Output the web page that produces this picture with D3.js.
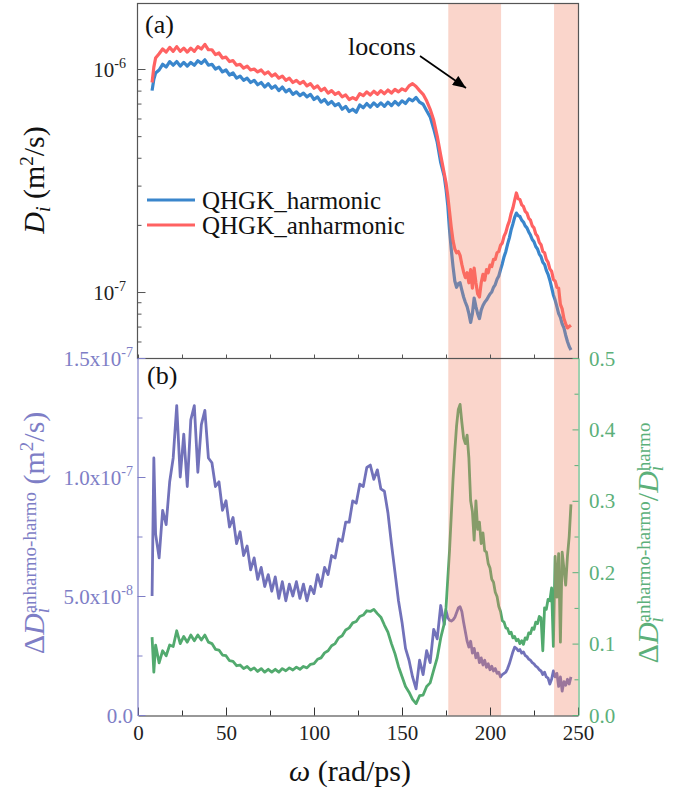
<!DOCTYPE html>
<html><head><meta charset="utf-8">
<script src="https://cdn.jsdelivr.net/npm/d3@7"></script>
<style>
body{margin:0;background:#fff}
svg{display:block}
text{font-family:"Liberation Serif","Times New Roman",Times,serif}
</style>
</head><body>
<svg id="chart" width="689" height="792" font-family="Liberation Serif, Times New Roman, serif"></svg>
<script>
// ω (rad/ps) sample points
const omega = [8,9,10,12,14,16,18,20,22,24,26,28,30,32,34,36,38,40,42,44,46,48,50,52,54,56,58,60,62,64,66,68,70,72,74,76,78,80,82,84,86,88,90,92,94,96,98,100,102,104,106,108,110,112,114,116,118,120,122,124,126,128,130,132,134,136,138,140,142,144,146,148,150,152,154,156,158,160,162,164,166,168,170,172,174,
175,176,177,178,179,180,181,182,183,184,185,186,187,188,189,190,191,192,193,194,195,196,197,198,199,200,201,202,203,204,205,206,207,208,209,210,211,212,213,214,215,216,217,218,219,220,221,222,223,224,225,226,227,228,229,230,231,232,233,234,235,236,237,238,239,240,241,242,243,244,245,246];

// D_i, QHGK harmonic (units of 1e-7 m^2/s)
const harmonic = [8.0,9.0,9.6,9.9,10.5,10.2,10.8,10.4,10.8,10.3,10.7,10.3,10.7,10.4,10.9,10.6,11.0,10.4,10.5,10.0,10.2,9.7,9.9,9.4,9.6,9.1,9.3,8.9,9.1,8.7,8.9,8.5,8.7,8.3,8.6,8.2,8.4,8.0,8.3,7.9,8.1,7.7,7.9,7.6,7.8,7.5,7.7,7.3,7.5,7.1,7.3,6.95,7.15,6.85,7.0,6.6,6.8,6.45,6.6,6.4,6.9,6.7,7.0,6.75,7.05,6.8,7.05,6.8,7.1,6.85,7.15,6.9,7.2,7.0,7.35,7.2,7.45,7.1,6.95,6.5,6.1,5.4,4.7,3.8,3.3,
2.9,2.45,1.9,1.55,1.3,1.12,1.05,1.09,1.1,1.02,0.95,0.9,0.86,0.8,0.73,0.8,0.94,0.86,0.8,0.76,0.83,0.87,0.9,0.92,0.95,0.98,1.0,1.05,1.08,1.14,1.18,1.26,1.34,1.44,1.52,1.64,1.75,1.9,2.02,2.16,2.26,2.2,2.18,2.1,2.06,1.98,1.94,1.86,1.8,1.72,1.68,1.6,1.56,1.48,1.44,1.36,1.33,1.25,1.2,1.13,1.05,0.97,0.92,0.86,0.8,0.77,0.72,0.69,0.64,0.6,0.57,0.55];

// D_i, QHGK anharmonic (units of 1e-7 m^2/s)
const anharmonic = [8.7,10.2,11.2,11.7,12.3,11.9,12.5,12.0,12.6,12.0,12.4,11.9,12.4,12.0,12.6,12.3,12.9,12.2,12.2,11.6,11.8,11.2,11.3,10.8,10.9,10.4,10.5,10.1,10.3,9.9,10.0,9.7,9.9,9.5,9.7,9.3,9.5,9.1,9.3,8.9,9.1,8.7,8.9,8.6,8.8,8.4,8.6,8.2,8.4,8.0,8.2,7.8,8.0,7.7,7.85,7.5,7.65,7.3,7.45,7.3,7.75,7.6,7.9,7.65,7.95,7.7,8.0,7.75,8.05,7.8,8.1,7.9,8.15,8.0,8.4,8.6,8.35,8.0,7.7,7.2,6.6,5.9,5.0,4.1,3.4,
3.1,2.7,2.3,1.95,1.7,1.56,1.5,1.52,1.46,1.33,1.23,1.16,1.22,1.1,1.26,1.04,1.28,1.1,0.98,0.95,1.1,1.2,1.13,1.26,1.22,1.32,1.3,1.4,1.4,1.5,1.52,1.62,1.66,1.78,1.85,1.98,2.08,2.25,2.38,2.58,2.78,2.62,2.6,2.46,2.42,2.3,2.26,2.14,2.1,1.98,1.94,1.82,1.78,1.67,1.63,1.52,1.5,1.4,1.36,1.27,1.24,1.14,1.12,1.05,1.04,0.88,0.84,0.76,0.72,0.69,0.7,0.71];

// ΔD_i anharmo-harmo (units of 1e-8 m^2/s)
const deltaD = [5.0,10.8,7.6,6.6,8.6,8.0,9.8,10.8,13.0,10.0,11.8,9.6,12.4,13.0,10.2,12.2,12.8,10.8,10.6,9.6,9.8,8.6,9.0,7.9,8.3,7.2,7.7,6.7,7.1,6.1,6.6,5.7,6.2,5.4,5.9,5.2,5.8,4.9,5.6,4.8,5.5,5.0,5.6,4.9,5.5,4.8,5.4,5.1,5.9,5.4,6.2,5.9,6.7,6.6,7.4,7.3,8.1,8.1,9.0,8.9,9.7,9.6,10.4,10.5,9.9,10.3,9.5,9.4,8.5,7.2,6.0,4.8,3.9,2.8,2.3,1.6,1.1,2.3,1.7,2.7,2.2,3.6,3.2,4.6,3.8,
4.4,4.1,3.98,3.95,4.0,4.1,4.3,4.5,4.55,4.35,3.9,3.5,3.1,2.85,3.1,2.6,2.8,2.4,2.6,2.2,2.4,2.1,2.3,2.0,2.15,1.9,2.05,1.85,1.95,1.75,1.8,1.6,1.7,1.75,1.8,1.95,2.15,2.4,2.65,2.85,2.8,2.7,2.75,2.6,2.65,2.5,2.45,2.35,2.3,2.2,2.15,2.05,2.0,1.9,1.85,1.7,1.8,1.6,1.55,1.3,1.5,1.85,1.6,1.75,1.2,1.6,1.0,1.4,1.25,1.5,1.3,1.6];

// ΔD_i anharmo-harmo / D_i harmo (dimensionless)
const ratio = [0.109,0.06,0.098,0.073,0.09,0.083,0.098,0.096,0.118,0.1,0.11,0.102,0.112,0.104,0.112,0.105,0.112,0.102,0.1,0.092,0.091,0.084,0.083,0.076,0.075,0.069,0.07,0.065,0.068,0.063,0.066,0.061,0.065,0.06,0.064,0.06,0.064,0.06,0.065,0.062,0.066,0.063,0.067,0.064,0.068,0.066,0.071,0.072,0.078,0.08,0.087,0.09,0.097,0.1,0.108,0.111,0.119,0.122,0.129,0.131,0.138,0.14,0.146,0.145,0.148,0.142,0.137,0.126,0.116,0.1,0.086,0.068,0.054,0.04,0.032,0.022,0.016,0.027,0.028,0.04,0.045,0.063,0.08,0.108,0.128,
0.15,0.19,0.23,0.28,0.33,0.37,0.405,0.428,0.435,0.41,0.388,0.38,0.392,0.36,0.3,0.285,0.245,0.3,0.26,0.27,0.24,0.255,0.23,0.228,0.212,0.206,0.19,0.186,0.172,0.166,0.152,0.145,0.132,0.13,0.122,0.121,0.114,0.116,0.108,0.11,0.104,0.106,0.1,0.104,0.099,0.108,0.106,0.115,0.114,0.122,0.12,0.13,0.128,0.138,0.136,0.09,0.15,0.148,0.162,0.16,0.178,0.096,0.222,0.165,0.226,0.102,0.228,0.205,0.182,0.222,0.25,0.295];

const seriesNames = ["QHGK_harmonic","QHGK_anharmonic"];
const xMajorTicks = [0,50,100,150,200,250];
const xMinorTicks = [25,75,125,175,225];
const topMajorTicks = [1,10];            // 1e-7, 1e-6 in units of 1e-7
const topTickExp = ["-7","-6"];
const topMinorTicks = [0.6,0.7,0.8,0.9,2,3,4,5,6,7,8,9];
const leftMajorTicks = [0,5,10,15];      // units of 1e-8
const leftTickMant = ["0.0","5.0x10","1.0x10","1.5x10"];
const leftTickExp = ["","-8","-7","-7"];
const leftMinorTicks = [2.5,7.5,12.5];
const rightMajorTicks = [0,0.1,0.2,0.3,0.4,0.5];
const rightTickLabels = ["0.0","0.1","0.2","0.3","0.4","0.5"];
const rightMinorTicks = [0.05,0.15,0.25,0.35,0.45];
const locBands = [[176.3,206.3],[236.4,250]];

const C = {blue:"#3a86cc", red:"#ff6262", purple:"#7272ba", green:"#52aa6e",
           lav:"#7e7ec6", grn:"#5cb07a", axis:"#555", band:"#f08060"};
const FONT = "Liberation Serif, Times New Roman, serif";
const L=137.5, R=578.5, T=3.5, M=358.5, B=715.5;

const svg = d3.select("#chart");
const x = d3.scaleLinear().domain([0,250]).range([138,578]);
const yTop = d3.scaleLog().domain([0.506,19.77]).range([358,3]);
const yL = d3.scaleLinear().domain([0,15]).range([715,358]);
const yR = d3.scaleLinear().domain([0,0.5]).range([715,358]);

const defs = svg.append("defs");
defs.append("clipPath").attr("id","clipTop").append("rect").attr("x",L).attr("y",T).attr("width",R-L).attr("height",M-T);
defs.append("clipPath").attr("id","clipBot").append("rect").attr("x",L).attr("y",M).attr("width",R-L).attr("height",B-M);
defs.append("marker").attr("id","arr").attr("viewBox","0 0 12 10").attr("refX",12).attr("refY",5)
  .attr("markerWidth",14).attr("markerHeight",11).attr("markerUnits","userSpaceOnUse").attr("orient","auto")
  .append("path").attr("d","M0,0 L12,5 L0,10 Z").attr("fill","#000");

function rich(sel, parts){
  let cur=0;
  parts.forEach(p=>{
    const off=p.off||0;
    const ts=sel.append("tspan").text(p.t).attr("dy",off-cur);
    cur=off;
    if(p.size) ts.attr("font-size",p.size);
    if(p.it) ts.attr("font-style","italic");
    if(p.dx) ts.attr("dx",p.dx);
  });
  return sel;
}

// curves
const gTop = svg.append("g").attr("clip-path","url(#clipTop)");
const lineTop = arr => d3.line().x((d,i)=>x(omega[i])).y(d=>yTop(d))(arr);
gTop.append("path").attr("d",lineTop(harmonic)).attr("fill","none").attr("stroke",C.blue).attr("stroke-width",3.2).attr("stroke-linejoin","round");
gTop.append("path").attr("d",lineTop(anharmonic)).attr("fill","none").attr("stroke",C.red).attr("stroke-width",3.2).attr("stroke-linejoin","round");

const gBot = svg.append("g").attr("clip-path","url(#clipBot)");
gBot.append("path").attr("d",d3.line().x((d,i)=>x(omega[i])).y(d=>yL(d))(deltaD)).attr("fill","none").attr("stroke",C.purple).attr("stroke-width",2.8).attr("stroke-linejoin","round");
gBot.append("path").attr("d",d3.line().x((d,i)=>x(omega[i])).y(d=>yR(d))(ratio)).attr("fill","none").attr("stroke",C.green).attr("stroke-width",2.8).attr("stroke-linejoin","round");

// locon bands
svg.append("g").selectAll("rect").data(locBands).join("rect")
  .attr("x",d=>x(d[0])).attr("width",d=>Math.min(x(d[1]),R)-x(d[0]))
  .attr("y",T).attr("height",B-T).attr("fill",C.band).attr("fill-opacity",0.33);

// top panel frame & ticks
svg.append("rect").attr("x",L).attr("y",T).attr("width",R-L).attr("height",M-T).attr("fill","none").attr("stroke",C.axis).attr("stroke-width",1.2);
const gA = svg.append("g").attr("transform",`translate(${L},0)`);
gA.call(d3.axisLeft(yTop).tickValues(topMajorTicks).tickSizeInner(-8).tickSizeOuter(0).tickFormat(""));
gA.call(g=>g.select(".domain").remove());
const gA2 = svg.append("g").attr("transform",`translate(${L},0)`);
gA2.call(d3.axisLeft(yTop).tickValues(topMinorTicks).tickSizeInner(-4).tickSizeOuter(0).tickFormat(""));
gA2.call(g=>g.select(".domain").remove());
[gA,gA2].forEach(g=>g.selectAll("line").attr("stroke",C.axis));
const gXt = svg.append("g").attr("transform",`translate(0,${M})`);
gXt.call(d3.axisBottom(x).tickValues(xMajorTicks.concat(xMinorTicks)).tickSizeInner(-4).tickSizeOuter(0).tickFormat(""));
gXt.call(g=>g.select(".domain").remove());
gXt.selectAll("line").attr("stroke",C.axis);

svg.append("g").selectAll("text").data(topMajorTicks).join("text")
  .attr("x",126).attr("y",d=>yTop(d)+8).attr("text-anchor","end").attr("font-size",21).attr("fill","#222").attr("font-family",FONT)
  .each(function(d,i){ rich(d3.select(this),[{t:"10"},{t:topTickExp[i],size:14,off:-9}]); });

// bottom panel axes
const gXb = svg.append("g").attr("transform",`translate(0,${B})`);
gXb.call(d3.axisBottom(x).tickValues(xMajorTicks).tickSizeInner(-8).tickSizeOuter(0).tickPadding(10));
gXb.attr("font-family",FONT);
gXb.select(".domain").attr("stroke","#333").attr("stroke-width",1.2);
gXb.selectAll("line").attr("stroke","#333");
gXb.selectAll("text").attr("font-size",21).attr("fill","#222").attr("font-family",FONT);
const gXb2 = svg.append("g").attr("transform",`translate(0,${B})`);
gXb2.call(d3.axisBottom(x).tickValues(xMinorTicks).tickSizeInner(-5).tickSizeOuter(0).tickFormat(""));
gXb2.call(g=>g.select(".domain").remove());
gXb2.selectAll("line").attr("stroke","#333");

const gYl = svg.append("g").attr("transform",`translate(${L},0)`);
gYl.call(d3.axisLeft(yL).tickValues(leftMajorTicks).tickSizeInner(-8).tickSizeOuter(0).tickFormat(""));
gYl.select(".domain").attr("stroke",C.lav).attr("stroke-width",1.2);
gYl.selectAll("line").attr("stroke",C.lav);
const gYl2 = svg.append("g").attr("transform",`translate(${L},0)`);
gYl2.call(d3.axisLeft(yL).tickValues(leftMinorTicks).tickSizeInner(-5).tickSizeOuter(0).tickFormat(""));
gYl2.call(g=>g.select(".domain").remove());
gYl2.selectAll("line").attr("stroke",C.lav);
svg.append("g").selectAll("text").data(leftMajorTicks).join("text")
  .attr("x",133).attr("y",d=>yL(d)+8).attr("text-anchor","end").attr("font-size",21).attr("fill",C.lav).attr("font-family",FONT)
  .each(function(d,i){ const p=[{t:leftTickMant[i]}]; if(leftTickExp[i]) p.push({t:leftTickExp[i],size:14,off:-9}); rich(d3.select(this),p); });

const gYr = svg.append("g").attr("transform",`translate(${R},0)`);
gYr.call(d3.axisRight(yR).tickValues(rightMajorTicks).tickSizeInner(-6).tickSizeOuter(0).tickFormat(""));
gYr.select(".domain").attr("stroke",C.grn).attr("stroke-width",1.2);
gYr.selectAll("line").attr("stroke",C.grn);
const gYr2 = svg.append("g").attr("transform",`translate(${R},0)`);
gYr2.call(d3.axisRight(yR).tickValues(rightMinorTicks).tickSizeInner(-4).tickSizeOuter(0).tickFormat(""));
gYr2.call(g=>g.select(".domain").remove());
gYr2.selectAll("line").attr("stroke",C.grn);
svg.append("g").selectAll("text").data(rightMajorTicks).join("text")
  .attr("x",589).attr("y",d=>yR(d)+7.5).attr("font-size",21).attr("fill",C.grn).attr("font-family",FONT)
  .text((d,i)=>rightTickLabels[i]);

// panel labels
svg.append("text").attr("x",145).attr("y",33).attr("font-size",26).attr("fill","#111").attr("font-family",FONT).text("(a)");
svg.append("text").attr("x",147).attr("y",384).attr("font-size",26).attr("fill","#111").attr("font-family",FONT).text("(b)");

// locons annotation
svg.append("text").attr("x",348).attr("y",55).attr("font-size",26).attr("fill","#111").attr("font-family",FONT).text("locons");
svg.append("line").attr("x1",420).attr("y1",56).attr("x2",466).attr("y2",88).attr("stroke","#000").attr("stroke-width",1.6).attr("marker-end","url(#arr)");

// legend
const leg = svg.append("g");
[[C.blue,200],[C.red,225]].forEach((c,i)=>{
  leg.append("line").attr("x1",147).attr("x2",195).attr("y1",c[1]).attr("y2",c[1]).attr("stroke",c[0]).attr("stroke-width",2.8);
  leg.append("text").attr("x",202).attr("y",c[1]+9).attr("font-size",25).attr("fill","#111").attr("font-family",FONT).text(seriesNames[i]);
});

// axis titles
svg.append("text").attr("x",350).attr("y",781).attr("text-anchor","middle").attr("font-size",30).attr("fill","#111").attr("font-family",FONT)
  .call(s=>rich(s,[{t:"ω",it:true},{t:" (rad/ps)"}]));

svg.append("text").attr("transform","translate(44,180) rotate(-90)").attr("text-anchor","middle").attr("font-size",30).attr("fill","#111").attr("font-family",FONT)
  .call(s=>rich(s,[{t:"D",it:true},{t:"i",it:true,size:20,off:6},{t:" (m",off:0},{t:"2",size:19,off:-11},{t:"/s)",off:0}]));

svg.append("text").attr("transform","translate(44,533) rotate(-90)").attr("text-anchor","middle").attr("font-size",30).attr("fill",C.lav).attr("font-family",FONT)
  .call(s=>rich(s,[{t:"Δ"},{t:"D",it:true},{t:"i",it:true,size:20,off:5},{t:"anharmo-harmo",size:19,off:-8,dx:-5.6},{t:" (m",off:0},{t:"2",size:19,off:-11},{t:"/s)",off:0}]));

svg.append("text").attr("transform","translate(658,543) rotate(-90)").attr("text-anchor","middle").attr("font-size",30).attr("fill",C.grn).attr("font-family",FONT)
  .call(s=>rich(s,[{t:"Δ"},{t:"D",it:true},{t:"i",it:true,size:20,off:5},{t:"anharmo-harmo",size:19,off:-8,dx:-5.6},{t:"/",off:0},{t:"D",it:true},{t:"i",it:true,size:20,off:5},{t:"harmo",size:19,off:-8,dx:-5.6}]));
</script>
</body></html>
